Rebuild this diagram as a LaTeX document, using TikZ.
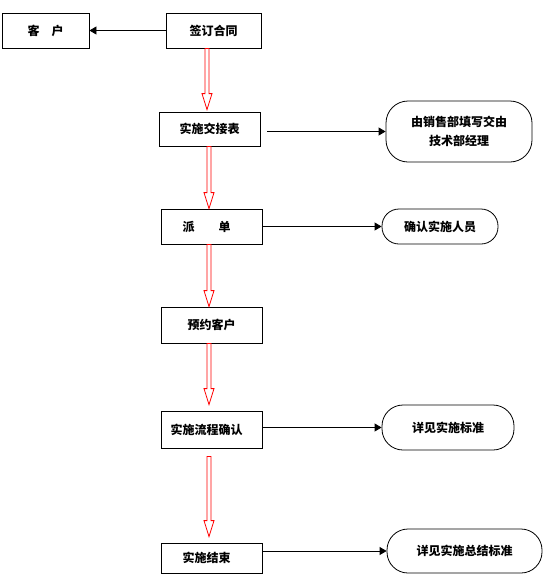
\documentclass[tikz,border=0pt]{standalone}
\usepackage{fontspec}
\newfontfamily\cjk{Noto Sans CJK SC}
\usetikzlibrary{arrows.meta,calc}

% hollow red arrow between two boxes: from, to, gap at top, gap at tip
\newcommand\hollowarrow[4]{%
  \draw[redarrow] let \p1=(#1.south), \p2=(#2.north), \n1={\x2-2.5pt} in
    (\n1-2pt,\y1-#3) -- (\n1-2pt,\y2+#4+16pt) -- (\n1-5pt,\y2+#4+16pt)
    -- (\n1,\y2+#4) -- (\n1+5pt,\y2+#4+16pt) -- (\n1+2pt,\y2+#4+16pt)
    -- (\n1+2pt,\y1-#3) -- cycle;}

\begin{document}
\begin{tikzpicture}[x=1pt,y=-1pt,
  every node/.style={font={\cjk\fontsize{12pt}{19pt}\selectfont\bfseries},inner sep=0pt},
  box/.style={draw,line width=0.8pt,minimum width=101pt,minimum height=35pt},
  roundbox/.style={draw,line width=0.8pt,rounded corners=17pt,align=center},
  flow/.style={line width=0.8pt,-{Triangle[length=7pt,width=8pt]}},
  redarrow/.style={draw=red,line width=0.8pt,fill=white}]
  \useasboundingbox (0,0) rectangle (551,579);
  % main column
  \node[box,minimum width=87pt] (kehu) at (45.5,30.5) {客\quad 户};
  \node[box,minimum width=95pt] (hetong) at (213.5,30.5) {签订合同};
  \node[box,minimum height=34pt] (jiaojie) at (209.5,129) {实施交接表};
  \node[box] (paidan) at (211.5,226.5) {派\quad\quad 单\hspace*{10pt}};
  \node[box,minimum height=36pt] (yuyue) at (211.5,325) {预约客户};
  \node[box,minimum height=37pt] (queren) at (211.5,429.5) {实施流程确认\hspace*{10pt}};
  \node[box,minimum height=30pt] (jieshu) at (211.5,558) {实施结束\hspace*{10pt}};
  % notes on the right
  \node[roundbox,minimum width=146pt,minimum height=61pt,rounded corners=22pt] (r1) at (459,131.5) {由销售部填写交由\\技术部经理};
  \node[roundbox,minimum width=116pt,minimum height=35pt] (r2) at (440,226.5) {确认实施人员};
  \node[roundbox,minimum width=132pt,minimum height=45pt,rounded corners=21pt] (r3) at (448,427.5) {详见实施标准};
  \node[roundbox,minimum width=155pt,minimum height=44pt,rounded corners=21pt] (r4) at (464.5,551) {详见实施总结标准};
  % connectors
  \draw[flow] (hetong.west) -- (kehu.east);
  \draw[flow] ([xshift=7pt]jiaojie.east |- r1.west) -- (r1.west);
  \draw[flow] (paidan.east |- r2.west) -- (r2.west);
  \draw[flow] (queren.east |- r3.west) -- (r3.west);
  \draw[flow] (jieshu.east |- r4.west) -- (r4.west);
  \hollowarrow{hetong}{jiaojie}{0pt}{2pt}
  \hollowarrow{jiaojie}{paidan}{0pt}{0pt}
  \hollowarrow{paidan}{yuyue}{0pt}{0pt}
  \hollowarrow{yuyue}{queren}{0pt}{6pt}
  \hollowarrow{queren}{jieshu}{8pt}{6pt}
\end{tikzpicture}
\end{document}
